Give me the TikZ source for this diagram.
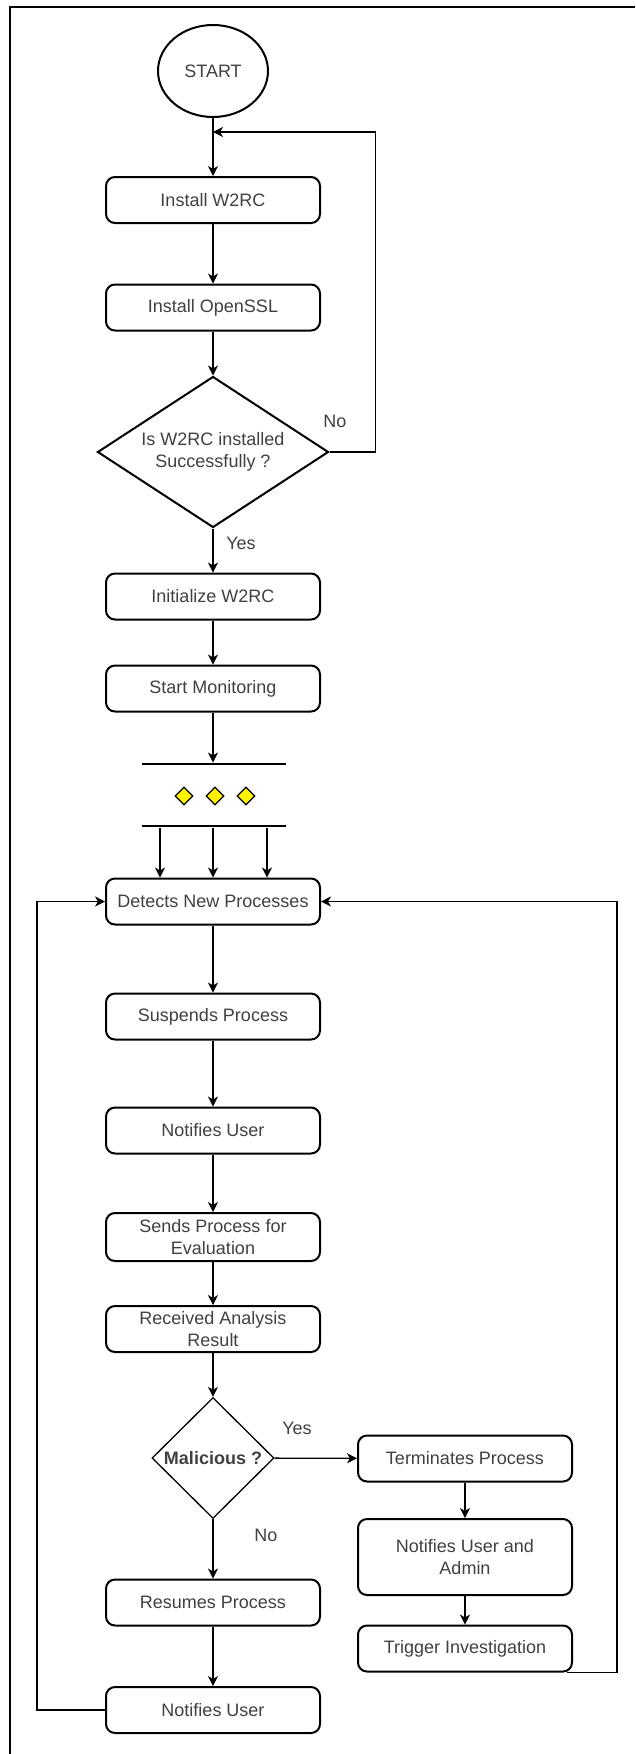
\documentclass[tikz,border=0pt]{standalone}
\usepackage{fontspec}
\setmainfont{Liberation Sans}
\usetikzlibrary{shapes.geometric,arrows.meta}
\definecolor{txt}{RGB}{64,64,64}
\newcommand\flowfont{\fontsize{18}{21.5}\selectfont}
\tikzset{
  box/.style={draw, line width=2pt, rounded corners=9pt, minimum width=214pt,
    minimum height=46pt, inner sep=0pt, align=center, text=txt, font=\flowfont},
  tallbox/.style={box, minimum height=76pt},
  decision/.style={diamond, draw, inner sep=0pt, align=center, text=txt, font=\flowfont},
  startnode/.style={ellipse, draw, line width=2pt, minimum width=110pt,
    minimum height=92pt, inner sep=0pt, text=txt, font=\flowfont},
  forkbar/.style={rectangle, fill=black, minimum width=144pt, minimum height=2.6pt, inner sep=0pt},
  gem/.style={diamond, draw, fill=yellow, line width=1.3pt, minimum width=18pt,
    minimum height=18pt, inner sep=0pt},
  conn/.style={line width=1.3pt},
  arr/.style={conn, -{Stealth[length=10pt, width=10pt, inset=3pt]}},
  lbl/.style={text=txt, font=\flowfont, inner sep=0pt},
}
\begin{document}
\begin{tikzpicture}[x=1pt, y=-1pt]
  \useasboundingbox (0,0) rectangle (635,1754);
  % page frame (top and left edges)
  \draw[line width=2pt] (635,7) -- (10,7) -- (10,1754);

  % installation stage
  \node[startnode] (start) at (213,71) {START};
  \coordinate (j1) at (213,132);
  \node[box] (inst) at (213,200) {Install W2RC};
  \node[box] (ssl)  at (213,307.5) {Install OpenSSL};
  \node[decision, line width=2pt, aspect=1.52, minimum width=231pt, minimum height=151pt]
       (ok) at (213,452) {Is W2RC installed\\Successfully ?};
  \node[box] (init) at (213,596.5) {Initialize W2RC};
  \node[box] (mon)  at (213,688.5) {Start Monitoring};

  % fork
  \node[forkbar] (bar1) at (214,764) {};
  \node[gem] (g1) at (184,796) {};
  \node[gem] (g2) at (215,796) {};
  \node[gem] (g3) at (246,796) {};
  \node[forkbar] (bar2) at (214,826) {};

  % monitoring loop
  \node[box] (det)   at (213,901.5) {Detects New Processes};
  \node[box] (susp)  at (213,1016.5) {Suspends Process};
  \node[box] (note)  at (213,1130.5) {Notifies User};
  \node[box, minimum height=48pt] (send) at (213,1237) {Sends Process for\\Evaluation};
  \node[box] (recv)  at (213,1329) {Received Analysis\\Result};
  \node[decision, line width=1.3pt, minimum width=122pt, minimum height=121pt,
        font=\flowfont\bfseries] (mal) at (213,1458) {Malicious ?};
  \node[box] (res)   at (213,1602.5) {Resumes Process};
  \node[box] (note2) at (213,1710) {Notifies User};

  \node[box] (term)  at (465,1458.5) {Terminates Process};
  \node[tallbox] (nua) at (465,1557) {Notifies User and\\Admin};
  \node[box] (trig)  at (465,1648.5) {Trigger Investigation};

  % labels
  \node[lbl] (lno1)  at (335,421) {No};
  \node[lbl] (lyes1) at (241,543) {Yes};
  \node[lbl] (lyes2) at (297,1428) {Yes};
  \node[lbl] (lno2)  at (266,1535) {No};

  % connectors
  \draw[conn] (start) -- (j1);
  \draw[arr] (j1) -- (inst);
  \draw[arr] (inst) -- (ssl);
  \draw[arr] (ssl) -- (ok);
  \draw[arr] (ok.east) -- ++(46,0) |- (j1);
  \draw[arr] (ok) -- (init);
  \draw[arr] (init) -- (mon);
  \draw[arr] (mon.south) -- (mon.south |- bar1.north);
  \draw[arr] ([xshift=-54pt]bar2.south) -- ([xshift=-54pt]bar2.south |- det.north);
  \draw[arr] ([xshift=-1pt]bar2.south) -- ([xshift=-1pt]bar2.south |- det.north);
  \draw[arr] ([xshift=53pt]bar2.south) -- ([xshift=53pt]bar2.south |- det.north);

  \draw[arr] (det) -- (susp);
  \draw[arr] (susp) -- (note);
  \draw[arr] (note) -- (send);
  \draw[arr] (send) -- (recv);
  \draw[arr] (recv) -- (mal);
  \draw[arr] (mal) -- (term);
  \draw[arr] (mal) -- (res);
  \draw[arr] (res) -- (note2);
  \draw[arr] (note2.west) -- ++(-68,0) |- (det.west);

  \draw[arr] (term) -- (nua);
  \draw[arr] (nua) -- (trig);
  \coordinate (rc) at (617,901.5);
  \draw[arr] ([xshift=-6pt]trig.south east) -| (rc) -- (det.east);
\end{tikzpicture}
\end{document}
